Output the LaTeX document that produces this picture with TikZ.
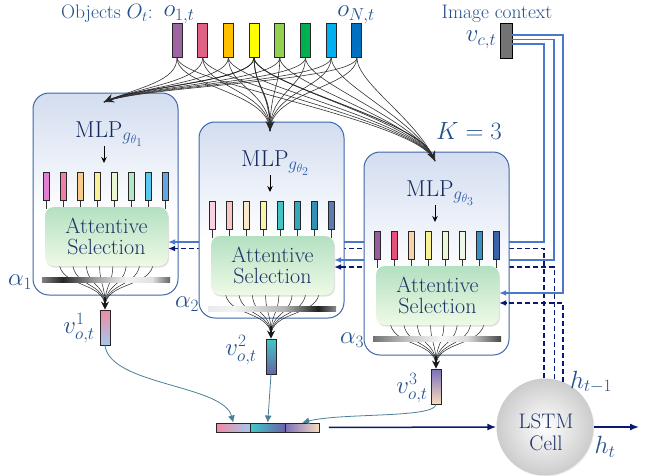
\documentclass[tikz,border=0pt]{standalone}
\usetikzlibrary{arrows.meta,calc,shadows}
\definecolor{boxborder}{HTML}{3D65A8}
\definecolor{boxtop}{HTML}{D3DDF0}
\definecolor{lblue}{HTML}{24508C}
\definecolor{mlptext}{HTML}{13285C}
\definecolor{subblue}{HTML}{2E5CA8}
\definecolor{navy}{HTML}{0B1872}
\definecolor{ctxblue}{HTML}{4A78CC}
\definecolor{asgA}{HTML}{B4E0C2}
\definecolor{asgB}{HTML}{EFFAE6}
\definecolor{contl}{HTML}{4B8098}
\definecolor{astext}{HTML}{1F3466}
% feature colours
\definecolor{fa1}{HTML}{E07FD4}\definecolor{fa2}{HTML}{F07FA6}\definecolor{fa3}{HTML}{F8CC8A}\definecolor{fa4}{HTML}{F8F09A}
\definecolor{fa5}{HTML}{EAF8D2}\definecolor{fa6}{HTML}{B2E6C8}\definecolor{fa7}{HTML}{5CC8F0}\definecolor{fa8}{HTML}{62A6E6}
\definecolor{fb1}{HTML}{F8D2E2}\definecolor{fb2}{HTML}{F8C6C6}\definecolor{fb3}{HTML}{F8EACA}\definecolor{fb4}{HTML}{F8F4AA}
\definecolor{fb5}{HTML}{44C4C4}\definecolor{fb6}{HTML}{32AABA}\definecolor{fb7}{HTML}{3290B6}\definecolor{fb8}{HTML}{5A7AB2}
\definecolor{fc1}{HTML}{9A5AA0}\definecolor{fc2}{HTML}{E8507C}\definecolor{fc3}{HTML}{F8D2A8}\definecolor{fc4}{HTML}{F8F294}
\definecolor{fc5}{HTML}{EAF8D8}\definecolor{fc6}{HTML}{EEF8E6}\definecolor{fc7}{HTML}{3A92C2}\definecolor{fc8}{HTML}{3A62A8}
\definecolor{oc1}{HTML}{9E64A4}\definecolor{oc2}{HTML}{E06284}\definecolor{oc3}{HTML}{FFC000}\definecolor{oc4}{HTML}{FFFF00}
\definecolor{oc5}{HTML}{92D050}\definecolor{oc6}{HTML}{00B050}\definecolor{oc7}{HTML}{00B0F0}\definecolor{oc8}{HTML}{0070C0}
% v colours
\definecolor{vpink}{HTML}{F08AA2}\definecolor{vlblue}{HTML}{A4C8F0}
\definecolor{vcyan}{HTML}{40C8C8}\definecolor{vpurp}{HTML}{6A62A8}
\definecolor{vviol}{HTML}{7A70B8}\definecolor{vred}{HTML}{E8607A}\definecolor{vpeach}{HTML}{F8DCC0}

\pgfdeclareverticalshading{boxshade}{100bp}{color(0bp)=(white); color(25bp)=(white); color(45bp)=(white); color(75bp)=(boxtop); color(100bp)=(boxtop)}
\pgfdeclarehorizontalshading{barA}{100bp}{color(0bp)=(black!50); color(25bp)=(black!50); color(33bp)=(black!85); color(45bp)=(black!40); color(58bp)=(black!5); color(68bp)=(black!12); color(75bp)=(black!60); color(100bp)=(black!60)}
\pgfdeclarehorizontalshading{barB}{100bp}{color(0bp)=(black!8); color(25bp)=(black!8); color(35bp)=(black!5); color(55bp)=(black!30); color(68bp)=(black!88); color(75bp)=(black!45); color(100bp)=(black!45)}
\pgfdeclarehorizontalshading{barC}{100bp}{color(0bp)=(black!55); color(25bp)=(black!55); color(40bp)=(black!20); color(52bp)=(black!3); color(62bp)=(black!15); color(75bp)=(black!72); color(100bp)=(black!72)}

\tikzset{
  unitbox/.style={draw=boxborder, line width=1pt, rounded corners=16pt, shading=boxshade},
  objvec/.style={draw=black!85, line width=0.9pt, minimum width=10pt, minimum height=34pt, inner sep=0pt},
  featvec/.style={draw=black!85, line width=0.8pt, minimum width=6.5pt, minimum height=28pt, inner sep=0pt},
  vvec/.style={draw=black!85, line width=0.9pt, minimum width=10pt, minimum height=35pt, inner sep=0pt},
  seg/.style={draw=black!85, line width=0.9pt, minimum width=34.5pt, minimum height=9pt, inner sep=0pt},
  vsty1/.style={top color=vpink, bottom color=vlblue},
  vsty2/.style={top color=vcyan, bottom color=vpurp},
  vsty3/.style={top color=vviol, middle color=vred, bottom color=vpeach},
  asbox/.style={rounded corners=9pt, top color=asgA, bottom color=asgB, minimum width=123pt, minimum height=59pt,
    inner sep=0pt, align=center, font=\fontsize{22}{21}\selectfont, text=astext,
    drop shadow={shadow xshift=1pt, shadow yshift=-1.5pt, opacity=0.25}},
  mlplabel/.style={anchor=base west, inner sep=0pt, font=\fontsize{23}{26}\selectfont, text=mlptext},
  smallarrow/.style={-{Stealth[length=6pt,width=5.5pt]}, line width=1pt, black},
  fantip/.style={-{Stealth[length=8pt,width=8pt]}, line width=1.2pt, black!90},
  fanline/.style={black!85, line width=0.5pt},
  thinline/.style={black!80, line width=0.5pt},
  objline/.style={black!80, line width=0.6pt},
  bigtip/.style={-{Stealth[length=10pt,width=9pt]}, black!85, line width=0.8pt},
  ctxline/.style={ctxblue, line width=1.5pt, -{Latex[length=7pt,width=6pt]}},
  dashline/.style={navy, line width=1.5pt, dash pattern=on 5pt off 3pt, -{Latex[length=7pt,width=6pt]}},
  tealline/.style={contl, line width=0.8pt, -{Latex[length=7pt,width=7pt]}},
  navyarrow/.style={navy, line width=1.5pt, -{Latex[length=9pt,width=7pt]}},
  lbl/.style={text=lblue, inner sep=0pt, font=\fontsize{23}{26}\selectfont},
  txt/.style={text=lblue, inner sep=0pt, font=\fontsize{19.5}{23}\selectfont},
}

\newcommand\mlpunit[6]{%
\begin{scope}[shift={(#2,#3)}]
  \shadedraw[unitbox] (0,0) rectangle (145,#4);
  \node[mlplabel] (mlp#1) at (42,44) {MLP$_{\color{subblue}g_{\theta_{#1}}}$};
  \coordinate (t#1) at (71,9);
  \draw[smallarrow] (71,53) -- (71,70);
  \foreach \c [count=\i] in {#5} {
    \draw[thinline] ({13.5+17*(\i-1)},100) -- ({13.5+17*(\i-1)},116);
    \node[featvec, fill=\c] (f#1\i) at ({13.5+17*(\i-1)},93) {};
  }
  \foreach \i in {1,...,8}
    \draw[fanline] ({26+13.5*(\i-1)},168) .. controls ({26+13.5*(\i-1)},195) and (72,188) .. (72,214);
  \shade[shading=#6] (9,184) rectangle (137,189.5);
  \node[asbox] (as#1) at (73.5,143.5) {Attentive\\Selection};
  \node[vvec, vsty#1] (v#1) at (72,234.5) {};
  \draw[fantip] (72,204) -- (v#1.north);
\end{scope}}

\begin{document}
\begin{tikzpicture}[x=1pt,y=-1pt]
\useasboundingbox (0,0) rectangle (645,475);

% LSTM cell
\node[circle, minimum size=97pt, inner sep=0pt, inner color=white, outer color=black!20,
      drop shadow={opacity=0.12, shadow xshift=1pt, shadow yshift=-1pt}] (lstm) at (545,427) {};
\node[align=center, inner sep=0pt, text=astext, font=\fontsize{21}{22}\selectfont] (lstmtxt) at (546,432) {LSTM\\Cell};

% image context
\node[draw=black, line width=0.9pt, fill=black!55, minimum width=12pt, minimum height=35pt, inner sep=0pt] (vc) at (506,40.5) {};
\coordinate (colA) at (544,0);
\coordinate (colB) at (554,0);
\coordinate (colC) at (563,0);

% unit 1
\mlpunit{1}{33}{93}{202}{fa1,fa2,fa3,fa4,fa5,fa6,fa7,fa8}{barA}
\coordinate (s1) at (as1.east |- 0,242);
\coordinate (d1) at (as1.east |- 0,248.5);
\draw[ctxline] ($(vc.east)+(0,3.5)$) -| (colA |- s1) -- (s1);
\draw[dashline] (lstm.91) |- (d1);

% unit 2
\mlpunit{2}{199}{122}{196}{fb1,fb2,fb3,fb4,fb5,fb6,fb7,fb8}{barB}
\coordinate (s2) at (as2.east |- 0,260);
\coordinate (d2) at (as2.east |- 0,267);
\draw[ctxline] ($(vc.east)+(0,-1)$) -| (colB |- s2) -- (s2);
\draw[dashline] (lstm.79) |- (d2);

% unit 3
\mlpunit{3}{364}{152}{203}{fc1,fc2,fc3,fc4,fc5,fc6,fc7,fc8}{barC}
\coordinate (s3) at (as3.east |- 0,293);
\coordinate (d3) at (as3.east |- 0,303);
\draw[ctxline] ($(vc.east)+(0,-5.5)$) -| (colC |- s3) -- (s3);
\draw[dashline] (lstm.68) |- (d3);

% objects
\foreach \c [count=\i] in {oc1,oc2,oc3,oc4,oc5,oc6,oc7,oc8}
  \node[objvec, fill=\c] (o\i) at ({177+25.7*(\i-1)},40) {};

\foreach \i in {1,...,8} {
  \draw[objline] (o\i.south) .. controls +(0,24) and ($(t1)+(38,-16)$) .. (t1);
  \draw[objline] (o\i.south) .. controls +(0,30) and ($(t2)+(0,-40)$) .. (t2);
  \draw[objline] (o\i.south) .. controls +(0,26) and ($(t3)+(-18,-42)$) .. (t3);
}
\draw[objline, bigtip] (o4.south) .. controls +(0,24) and ($(t1)+(38,-16)$) .. (t1);
\draw[objline, bigtip] (o4.south) .. controls +(0,30) and ($(t2)+(0,-40)$) .. (t2);
\draw[objline, bigtip] (o4.south) .. controls +(0,26) and ($(t3)+(-18,-42)$) .. (t3);

% labels top
\node[txt, anchor=base west] (objlbl) at (61,18) {Objects $O_t$:};
\node[lbl] (o1lbl) at (179,15) {$o_{1,t}$};
\node[lbl] (oNlbl) at (356,14.5) {$o_{N,t}$};
\node[txt] (imglbl) at (497,14) {Image context};
\node[lbl] (vclbl) at (481,40) {$v_{c,t}$};
\node[lbl] (klbl) at (469,131) {$K=3$};

% alpha and v labels
\node[lbl] (a1lbl) at (20,282) {$\alpha_1$};
\node[lbl] (a2lbl) at (187,304) {$\alpha_2$};
\node[lbl] (a3lbl) at (352,340) {$\alpha_3$};
\node[lbl] (v1lbl) at (79,328) {$v^1_{o,t}$};
\node[lbl] (v2lbl) at (241,350) {$v^2_{o,t}$};
\node[lbl] (v3lbl) at (412,388) {$v^3_{o,t}$};

% concatenated vector
\node[seg, left color=vpink, right color=vlblue] (c1) at (233.25,427.5) {};
\node[seg, left color=vcyan, right color=vpurp] (c2) at (267.75,427.5) {};
\node[seg, left color=vviol, middle color=vred, right color=vpeach] (c3) at (302.25,427.5) {};

\draw[tealline] (v1.south) .. controls +(5,40) and +(-10,-38) .. (c1.north);
\draw[tealline] (v2.south) -- (c2.north);
\draw[tealline] (v3.south) .. controls +(-2,14) and +(40,-10) .. (c3.north);

% LSTM in/out
\draw[navyarrow, shorten <=9pt] (c3.east) -- (lstm.west);
\coordinate (htend) at (639,427);
\draw[navyarrow] (lstm.east) -- (htend);
\node[lbl] (htm1) at (591,382) {$h_{t-1}$};
\node[lbl] (htlbl) at (605,447) {$h_t$};
\end{tikzpicture}
\end{document}
